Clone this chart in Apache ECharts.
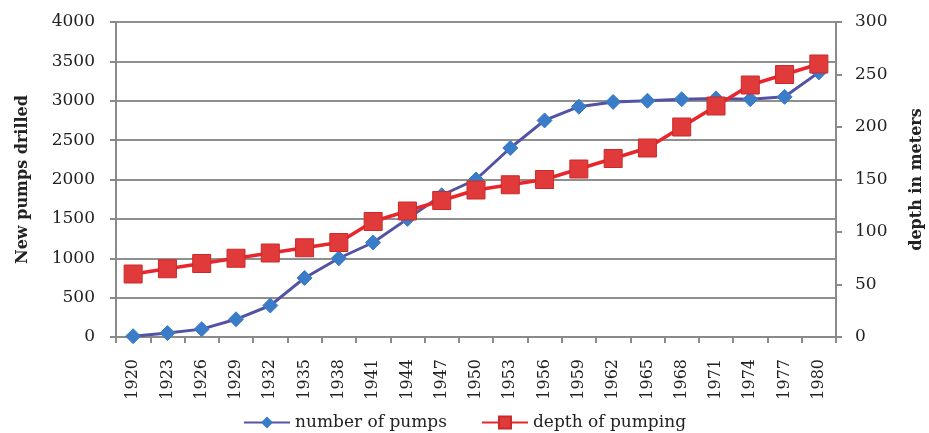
<!DOCTYPE html>
<html><head><meta charset="utf-8">
<script src="https://cdn.jsdelivr.net/npm/echarts@6/dist/echarts.min.js"></script>
<style>html,body{margin:0;padding:0;background:#fff}#c{width:929px;height:433px}</style>
</head><body><div id="c"></div>
<script>
var years = ['1920','1923','1926','1929','1932','1935','1938','1941','1944','1947','1950','1953','1956','1959','1962','1965','1968','1971','1974','1977','1980'];
var pumps = [10,50,100,225,400,750,1000,1200,1500,1800,2000,2400,2750,2925,2985,3000,3020,3030,3020,3050,3360];
var depth = [60,65,70,75,80,85,90,110,120,130,140,145,150,160,170,180,200,220,240,250,260];
var leftTicks = {min:0,max:4000,interval:500};
var rightTicks = {min:0,max:300,interval:50};
var font = 'DejaVu Serif';
var chart = echarts.init(document.getElementById('c'));
chart.setOption({
  animation:false,
  textStyle:{fontFamily:font},
  grid:{left:116,right:93,top:22,bottom:96,containLabel:false,outerBoundsMode:'none'},
  legend:{bottom:-3,left:'center',itemWidth:46,itemHeight:15,itemGap:34,
    textStyle:{fontFamily:font,fontSize:17,color:'#222'},
    data:['number of pumps','depth of pumping']},
  xAxis:{type:'category',data:years,boundaryGap:true,
    axisLine:{lineStyle:{color:'#8a8a8a',width:2}},
    axisTick:{show:true,length:6,lineStyle:{color:'#8a8a8a',width:2}},
    axisLabel:{rotate:90,fontFamily:font,fontSize:16,color:'#222',margin:22}},
  yAxis:[{type:'value',min:leftTicks.min,max:leftTicks.max,interval:leftTicks.interval,
    name:'New pumps drilled',nameLocation:'middle',nameGap:85,nameRotate:90,
    nameTextStyle:{fontFamily:font,fontSize:16,fontWeight:'bold',color:'#222'},
    axisLine:{show:true,lineStyle:{color:'#8a8a8a',width:2}},
    axisTick:{show:true,length:6,lineStyle:{color:'#8a8a8a',width:2}},
    axisLabel:{fontFamily:font,fontSize:17,color:'#222',margin:21,formatter:function(v){return String(v);}},
    splitLine:{lineStyle:{color:'#8f8f8f',width:2}}},
   {type:'value',min:rightTicks.min,max:rightTicks.max,interval:rightTicks.interval,position:'right',
    name:'depth in meters',nameLocation:'middle',nameGap:73,nameRotate:90,
    nameTextStyle:{fontFamily:font,fontSize:16,fontWeight:'bold',color:'#222'},
    axisLine:{show:true,lineStyle:{color:'#8a8a8a',width:2}},
    axisTick:{show:true,length:6,lineStyle:{color:'#8a8a8a',width:2}},
    axisLabel:{fontFamily:font,fontSize:17,color:'#222',margin:19},
    splitLine:{show:false}}],
  series:[
   {name:'number of pumps',type:'line',yAxisIndex:0,data:pumps,
    symbol:'diamond',symbolSize:15,
    lineStyle:{color:'#5352a3',width:3},
    itemStyle:{color:'#3b7cc9',borderColor:'#3b7cc9'}},
   {name:'depth of pumping',type:'line',yAxisIndex:1,data:depth,
    symbol:'rect',symbolSize:18,
    lineStyle:{color:'#e8262c',width:3.5},
    itemStyle:{color:'#e03a3a',borderColor:'#c92a2a',borderWidth:1}}
  ]
});
</script></body></html>
